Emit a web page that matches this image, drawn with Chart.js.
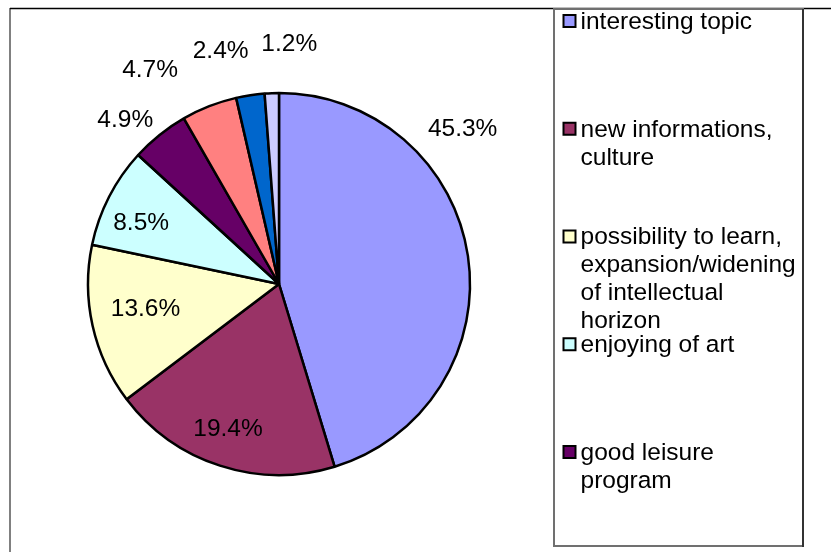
<!DOCTYPE html>
<html>
<head>
<meta charset="utf-8">
<title>Reasons pie</title>
<script src="https://cdn.jsdelivr.net/npm/chart.js@4/dist/chart.umd.min.js"></script>
<style>
    html, body { margin: 0; padding: 0; background: #fff; }
    #wrap { width: 831px; height: 552px; position: relative; }
</style>
</head>
<body>
<div id="wrap"><canvas id="chart"></canvas></div>
<script>
/* Pie of visit reasons, Excel style: percent labels around the pie and a
   boxed legend on the right that only has room for the first five entries. */
(function () {
    "use strict";

    // Categories (multi-line as in the legend). The last three do not fit
    // in the legend box of the original.
    var categories = [
        ["interesting topic"],
        ["new informations,", "culture"],
        ["possibility to learn,", "expansion/widening", "of intellectual", "horizon"],
        ["enjoying of art"],
        ["good leisure", "program"],
        ["other reason 1"],
        ["other reason 2"],
        ["other reason 3"]
    ];
    var shares = [45.3, 19.4, 13.6, 8.5, 4.9, 4.7, 2.4, 1.2];
    var colors = [
        "#9999FF",
        "#993366",
        "#FFFFCC",
        "#CCFFFF",
        "#660066",
        "#FF8080",
        "#0066CC",
        "#CCCCFF"
    ];
    var legendShown = 5;

    // Label placement like Excel's best fit: radius factor and angle shift.
    var labelRadius = [1.26, 0.80, 0.71, 0.79, 1.18, 1.31, 1.26, 1.26];
    var labelShift = [-31.8, 1.5, 2.4, -3.2, -4.3, -9.6, -5.4, 4.6];

    var font = '"Liberation Sans", Arial, sans-serif';

    var frame = {
        id: "frame",
        beforeDraw: function (chart) {
            var ctx = chart.ctx;
            ctx.save();
            ctx.lineWidth = 2;
            ctx.strokeStyle = "#808080";
            ctx.beginPath();
            ctx.moveTo(10, 8);
            ctx.lineTo(10, 552);
            ctx.stroke();
            ctx.strokeStyle = "#000";
            ctx.lineWidth = 1.5;
            ctx.beginPath();
            ctx.moveTo(10, 8.5);
            ctx.lineTo(831, 8.5);
            ctx.stroke();
            ctx.restore();
        }
    };

    var pctLabels = {
        id: "pctLabels",
        afterDatasetsDraw: function (chart) {
            var ctx = chart.ctx;
            var arcs = chart.getDatasetMeta(0).data;
            ctx.save();
            ctx.font = "24.5px " + font;
            ctx.fillStyle = "#000";
            ctx.textAlign = "center";
            ctx.textBaseline = "middle";
            arcs.forEach(function (arc, i) {
                var p = arc.getProps(["x", "y", "startAngle", "endAngle", "outerRadius"], true);
                var a = (p.startAngle + p.endAngle) / 2 + labelShift[i] * Math.PI / 180;
                var r = p.outerRadius * labelRadius[i];
                ctx.fillText(shares[i].toFixed(1) + "%", p.x + Math.cos(a) * r, p.y + Math.sin(a) * r + 1);
            });
            ctx.restore();
        }
    };

    var boxLegend = {
        id: "boxLegend",
        afterDraw: function (chart) {
            var ctx = chart.ctx;
            ctx.save();
            ctx.lineWidth = 2;
            ctx.strokeStyle = "#707070";
            ctx.strokeRect(554, 9, 249, 537);
            ctx.strokeStyle = "#333";
            ctx.beginPath();
            ctx.moveTo(803, 9);
            ctx.lineTo(803, 547);
            ctx.stroke();

            ctx.font = "24.5px " + font;
            ctx.textBaseline = "middle";
            ctx.textAlign = "left";
            for (var i = 0; i < legendShown; i++) {
                var cy = 22 + i * 107.75;
                ctx.fillStyle = colors[i];
                ctx.fillRect(563.5, cy - 7, 12, 12);
                ctx.strokeStyle = "#000";
                ctx.lineWidth = 2;
                ctx.strokeRect(563.5, cy - 7, 12, 12);
                ctx.fillStyle = "#000";
                categories[i].forEach(function (line, j) {
                    ctx.fillText(line, 580.5, cy + j * 28);
                });
            }
            ctx.restore();
        }
    };

    new Chart(document.getElementById("chart"), {
        type: "pie",
        data: {
            labels: categories.map(function (c) { return c.join(" "); }),
            datasets: [{
                data: shares,
                backgroundColor: colors,
                borderColor: "#000",
                borderWidth: 2.5
            }]
        },
        options: {
            responsive: true,
            maintainAspectRatio: false,
            animation: false,
            radius: 191,
            layout: { padding: { left: 88, right: 361, top: 92, bottom: 76 } },
            plugins: {
                legend: { display: false },
                tooltip: { enabled: false }
            }
        },
        plugins: [frame, pctLabels, boxLegend]
    });
})();
</script>
</body>
</html>
